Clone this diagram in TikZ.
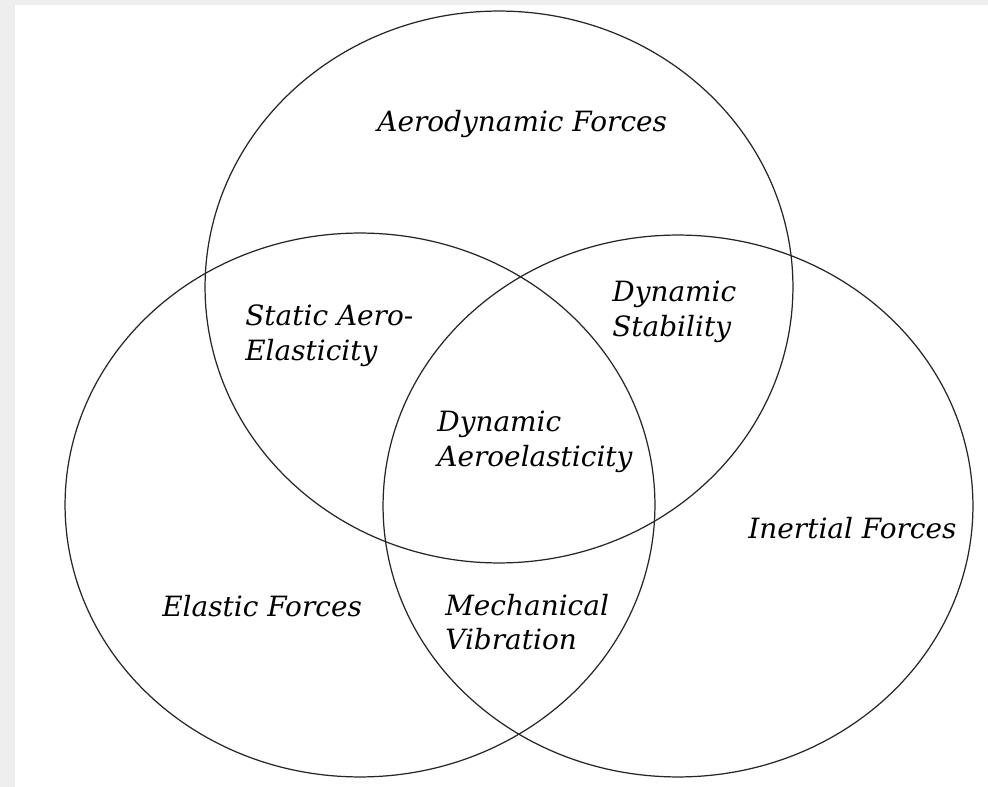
\documentclass[tikz,border=0pt]{standalone}
\usepackage{fontspec}
\setmainfont{DejaVu Serif}
\begin{document}
\begin{tikzpicture}[x=0.02cm,y=-0.02cm,
  ring/.style={draw=black!85,line width=0.7pt},
  label/.style={font=\fontsize{15.9}{19.8}\selectfont\itshape,align=left,inner sep=0pt,anchor=west}]
  % page: grey strip on the left and top, white sheet elsewhere
  \fill[gray!13] (0,0) rectangle (988,787);
  \fill[white] (15,5) rectangle (988,787);
  \useasboundingbox (0,0) rectangle (988,787);
  % the three force fields
  \draw[ring] (499,287) ellipse [x radius=5.88cm, y radius=5.52cm];
  \draw[ring] (360,505) ellipse [x radius=5.90cm, y radius=5.44cm];
  \draw[ring] (678,506) ellipse [x radius=5.90cm, y radius=5.42cm];
  % region labels
  \node[label] (aero)   at (377,124) {Aerodynamic Forces};
  \node[label] (sae)    at (245,336) {Static Aero-\\Elasticity};
  \node[label] (dstab)  at (612,312) {Dynamic\\Stability};
  \node[label] (dae)    at (437,442) {Dynamic\\Aeroelasticity};
  \node[label] (inert)  at (748,528) {Inertial Forces};
  \node[label] (elast)  at (162,606) {Elastic Forces};
  \node[label] (mech)   at (445,622) {Mechanical\\Vibration};
\end{tikzpicture}
\end{document}
